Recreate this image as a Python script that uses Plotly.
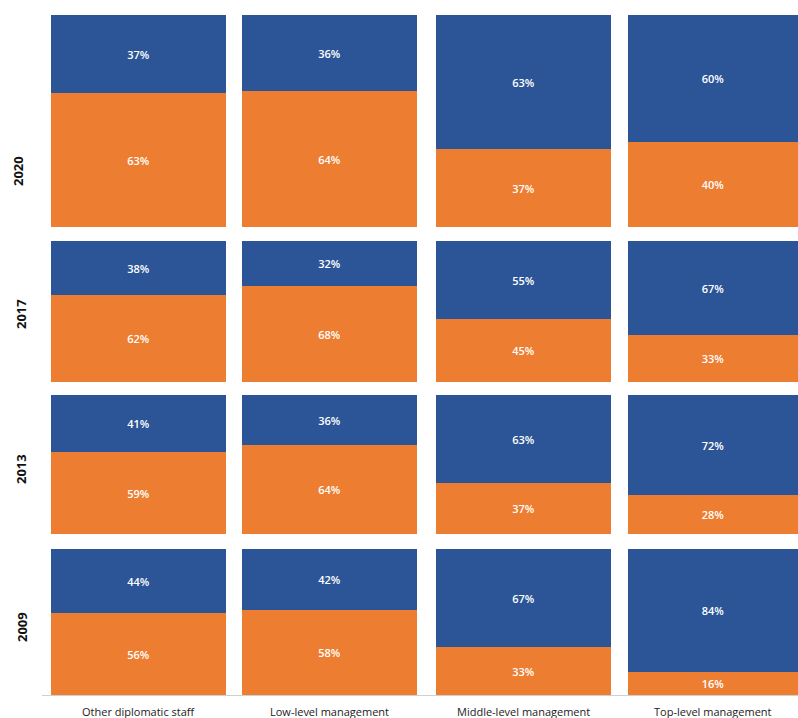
import plotly.graph_objects as go

years = ["2020", "2017", "2013", "2009"]
categories = ["Other diplomatic staff", "Low-level management",
              "Middle-level management", "Top-level management"]
women = {
    "2020": [63, 64, 37, 40],
    "2017": [62, 68, 45, 33],
    "2013": [59, 64, 37, 28],
    "2009": [56, 58, 33, 16],
}
men = {
    "2020": [37, 36, 63, 60],
    "2017": [38, 32, 55, 67],
    "2013": [41, 36, 63, 72],
    "2009": [44, 42, 67, 84],
}

W, H = 798, 718
ORANGE = "#ED7D31"
BLUE = "#2C5597"

# pixel layout
col_px = [(51, 226), (242, 417), (436, 611), (628, 798)]
row_px = [(15, 227), (241, 382), (395, 534), (549, 695)]
row_label_px = [(18, 171), (21, 314), (21, 469), (22, 627)]

fig = go.Figure()
layout_axes = {}
n = 0
for r, yr in enumerate(years):
    for c, cat in enumerate(categories):
        n += 1
        xa = "x" if n == 1 else f"x{n}"
        ya = "y" if n == 1 else f"y{n}"
        for vals, color, name in ((women, ORANGE, "Women"), (men, BLUE, "Men")):
            fig.add_trace(go.Bar(
                x=[cat], y=[vals[yr][c]], name=name,
                marker=dict(color=color, line=dict(width=0)),
                text=[f"{vals[yr][c]}%"], textposition="inside",
                insidetextanchor="middle",
                textfont=dict(color="white", size=11, family="Open Sans",
                              weight=600),
                xaxis=xa, yaxis=ya, showlegend=False,
                hoverinfo="skip",
            ))
        x0, x1 = col_px[c]
        y0, y1 = row_px[r]
        layout_axes["xaxis" if n == 1 else f"xaxis{n}"] = dict(
            domain=[x0 / W, x1 / W], visible=False, anchor=ya)
        layout_axes["yaxis" if n == 1 else f"yaxis{n}"] = dict(
            domain=[1 - y1 / H, 1 - y0 / H], range=[0, 100], visible=False,
            anchor=xa)

annotations = []
for r, yr in enumerate(years):
    lx, ly = row_label_px[r]
    annotations.append(dict(
        x=lx / W, y=1 - ly / H, xref="paper", yref="paper",
        xanchor="center", yanchor="middle",
        text=f"<b>{yr}</b>", showarrow=False, textangle=-90,
        font=dict(size=13, color="#111111", family="Open Sans")))
for c, cat in enumerate(categories):
    x0, x1 = col_px[c]
    annotations.append(dict(
        x=(x0 + x1) / 2 / W, y=1 - 711 / H, xref="paper", yref="paper",
        xanchor="center", yanchor="middle",
        text=cat, showarrow=False,
        font=dict(size=11, color="#222222", family="Open Sans")))

fig.update_layout(
    width=W, height=H, barmode="stack", bargap=0,
    margin=dict(l=0, r=0, t=0, b=0),
    paper_bgcolor="white", plot_bgcolor="white",
    annotations=annotations,
    shapes=[dict(type="line", xref="paper", yref="paper",
                 x0=42 / W, x1=1, y0=1 - 695.5 / H, y1=1 - 695.5 / H,
                 line=dict(color="#D0D0D0", width=1))],
    **layout_axes,
)

fig.write_html(
    "out.html",
    config={"displayModeBar": False},
    post_script="document.body.style.margin='0';document.body.style.overflow='hidden';",
)
